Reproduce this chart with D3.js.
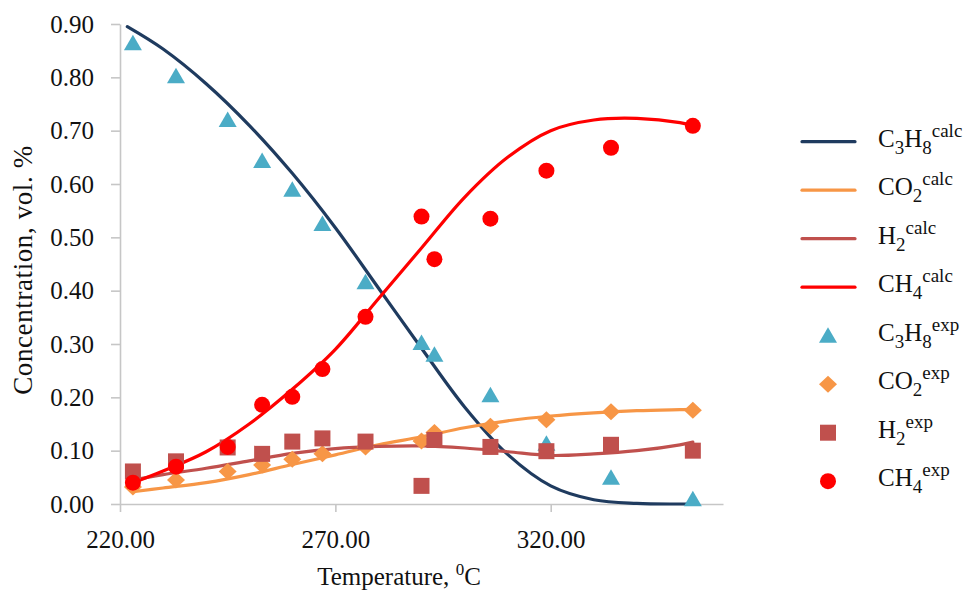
<!DOCTYPE html>
<html>
<head>
<meta charset="utf-8">
<script src="https://cdn.jsdelivr.net/npm/d3@7"></script>
<style>
  body { margin: 0; background: #fff; }
  text { font-family: "Liberation Serif", serif; fill: #111; }
</style>
</head>
<body>
<div id="chart"></div>
<script>
// ---- data ----
const tempCalc = [223, 230, 240, 250, 260, 270, 280, 290, 300, 310, 320, 330, 340, 350, 353];
const tempCalcC3H8 = [221.7, 230, 240, 250, 260, 270, 280, 290, 300, 310, 320, 330, 340, 350, 353];
const c3h8Calc = [0.895, 0.853, 0.788, 0.71, 0.62, 0.518, 0.405, 0.292, 0.182, 0.093, 0.034, 0.008, 0.001, 0.0, 0.0];
const co2Calc = [0.023, 0.03, 0.04, 0.055, 0.074, 0.092, 0.111, 0.126, 0.143, 0.156, 0.165, 0.171, 0.175, 0.177, 0.1775];
const h2Calc = [0.045, 0.055, 0.067, 0.081, 0.095, 0.104, 0.108, 0.109, 0.105, 0.098, 0.091, 0.094, 0.1, 0.111, 0.116];
const ch4Calc = [0.04, 0.062, 0.098, 0.15, 0.215, 0.29, 0.385, 0.48, 0.575, 0.65, 0.70, 0.72, 0.723, 0.715, 0.709];

const tempExp = [223, 233, 245, 253, 260, 267, 277, 290, 293, 306, 319, 334, 353];
const c3h8Exp = [0.864, 0.802, 0.72, 0.643, 0.589, 0.525, 0.416, 0.302, 0.28, 0.204, 0.113, 0.049, 0.009];
const co2Exp = [0.032, 0.045, 0.061, 0.073, 0.084, 0.094, 0.107, 0.118, 0.134, 0.146, 0.158, 0.173, 0.176];
const h2Exp = [0.061, 0.08, 0.106, 0.094, 0.117, 0.123, 0.117, 0.034, 0.12, 0.107, 0.099, 0.111, 0.10];
const ch4Exp = [0.040, 0.070, 0.107, 0.186, 0.201, 0.253, 0.351, 0.539, 0.459, 0.535, 0.625, 0.668, 0.709];

const xTicks = [220, 270, 320];
const yTicks = [0, 0.1, 0.2, 0.3, 0.4, 0.5, 0.6, 0.7, 0.8, 0.9];

const width = 968, height = 594;

const svg = d3.select('#chart').append('svg')
  .attr('width', width)
  .attr('height', height);

const x = d3.scaleLinear().domain([220, 360]).range([120, 723]);
const y = d3.scaleLinear().domain([0, 0.9]).range([504, 24]);

// markers, Excel-ish (box centred)
const triangle = { draw(ctx, s) { ctx.moveTo(0, -8.5); ctx.lineTo(9, 7); ctx.lineTo(-9, 7); ctx.closePath(); } };
const diamond = { draw(ctx, s) { ctx.moveTo(0, -8.5); ctx.lineTo(9, 0); ctx.lineTo(0, 8.5); ctx.lineTo(-9, 0); ctx.closePath(); } };
const square = { draw(ctx, s) { ctx.rect(-8, -8, 16, 16); } };
const circle = { draw(ctx, s) { ctx.moveTo(8, 0); ctx.arc(0, 0, 8, 0, 2 * Math.PI); } };

const calcSeries = [
  { name: 'C3H8', temps: tempCalcC3H8, vals: c3h8Calc, color: '#1f3b5f' },
  { name: 'CO2', temps: tempCalc, vals: co2Calc, color: '#f79646' },
  { name: 'H2', temps: tempCalc, vals: h2Calc, color: '#c0504d' },
  { name: 'CH4', temps: tempCalc, vals: ch4Calc, color: '#ff0000' },
];
const expSeries = [
  { name: 'C3H8', vals: c3h8Exp, color: '#4bacc6', shape: triangle },
  { name: 'CO2', vals: co2Exp, color: '#f79646', shape: diamond },
  { name: 'H2', vals: h2Exp, color: '#c0504d', shape: square },
  { name: 'CH4', vals: ch4Exp, color: '#ff0000', shape: circle },
];

// ---- axes ----
const axisColor = '#c6c6c6';
const yAxis = svg.append('g')
  .attr('transform', `translate(${x(220)},0)`)
  .call(d3.axisLeft(y).tickValues(yTicks).tickFormat(d3.format('.2f'))
    .tickSize(9).tickSizeOuter(0).tickPadding(17));
const xAxis = svg.append('g')
  .attr('transform', `translate(0,${y(0)})`)
  .call(d3.axisBottom(x).tickValues(xTicks).tickFormat(d3.format('.2f'))
    .tickSize(8).tickSizeOuter(0).tickPadding(18));
[yAxis, xAxis].forEach((a) => {
  a.selectAll('path, line').attr('stroke', axisColor).attr('stroke-width', 1.6);
  a.selectAll('text').attr('font-size', 25).attr('fill', '#111')
    .attr('font-family', '"Liberation Serif", serif');
});

// axis titles
svg.append('text')
  .attr('transform', 'translate(32,270) rotate(-90)')
  .attr('text-anchor', 'middle')
  .attr('font-size', 27)
  .attr('letter-spacing', 0.6)
  .text('Concentration, vol. %');

const xt = svg.append('text')
  .attr('x', 399).attr('y', 585)
  .attr('text-anchor', 'middle')
  .attr('font-size', 25);
xt.append('tspan').text('Temperature, ');
xt.append('tspan').attr('font-size', 17).attr('dy', -10).text('0');
xt.append('tspan').attr('dy', 10).text('C');

// ---- calculated curves ----
const line = d3.line().curve(d3.curveCatmullRom.alpha(0.5));
const plot = svg.append('g');
calcSeries.forEach((s) => {
  plot.append('path')
    .attr('d', line(s.temps.map((t, i) => [x(t), y(s.vals[i])])))
    .attr('fill', 'none')
    .attr('stroke', s.color)
    .attr('stroke-width', 3.2)
    .attr('stroke-linecap', 'round');
});

// ---- experimental points ----
expSeries.forEach((s) => {
  plot.append('g').selectAll('path')
    .data(s.vals)
    .join('path')
    .attr('d', d3.symbol().type(s.shape))
    .attr('transform', (d, i) => `translate(${x(tempExp[i])},${y(d)})`)
    .attr('fill', s.color);
});

// ---- legend ----
function label(sel, name, sup) {
  const t = sel.append('text').attr('font-size', 25);
  let sub = false;
  name.split(/(\d+)/).filter((p) => p).forEach((p) => {
    const isNum = /\d/.test(p);
    const ts = t.append('tspan').text(p);
    if (isNum) ts.attr('font-size', 19).attr('dy', sub ? 0 : 7);
    else if (sub) ts.attr('dy', -7);
    sub = isNum;
  });
  t.append('tspan').attr('font-size', 19).attr('dy', sub ? -17 : -10).text(sup);
  return t;
}

const legend = svg.append('g');
const rowY = (i) => 141.7 + i * 48.5;
calcSeries.forEach((s, i) => {
  const g = legend.append('g').attr('transform', `translate(0,${rowY(i)})`);
  g.append('line').attr('x1', 802).attr('x2', 855)
    .attr('stroke', s.color).attr('stroke-width', 3.2).attr('stroke-linecap', 'round');
  label(g, s.name, 'calc').attr('x', 878).attr('y', 5);
});
expSeries.forEach((s, i) => {
  const g = legend.append('g').attr('transform', `translate(0,${rowY(i + 4)})`);
  g.append('path').attr('d', d3.symbol().type(s.shape))
    .attr('transform', 'translate(828,0)').attr('fill', s.color);
  label(g, s.name, 'exp').attr('x', 878).attr('y', 5);
});
</script>
</body>
</html>
